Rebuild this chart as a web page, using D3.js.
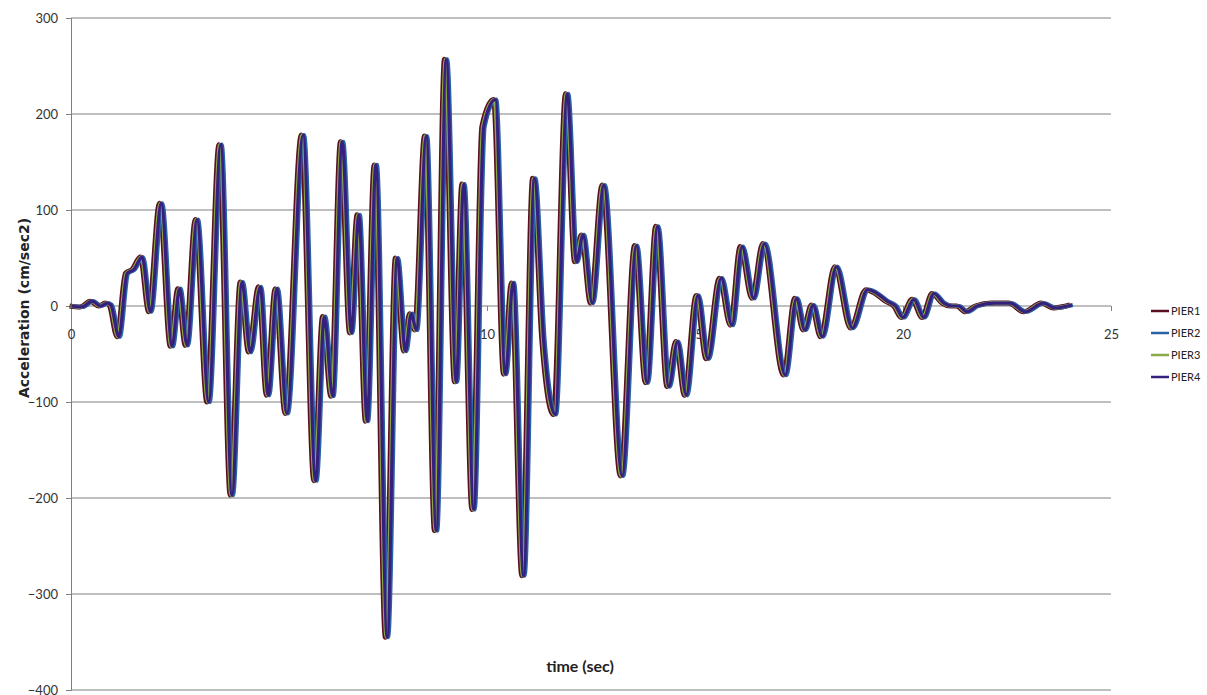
<!DOCTYPE html>
<html>
<head>
<meta charset="utf-8">
<script src="https://cdn.jsdelivr.net/npm/d3@7"></script>
<style>
  html, body { margin: 0; padding: 0; background: #fff; }
  svg { display: block; }
  .tick text { font-family: Lato, "Open Sans", sans-serif; font-size: 13px; fill: #333; }
  .legend-label { font-family: Lato, "Open Sans", sans-serif; font-size: 11px; fill: #222; }
</style>
</head>
<body>
<svg id="chart" width="1207" height="695"></svg>
<script>
const svg = d3.select("#chart");

// time (sec) of each turning point
const timeSec = [
  0.00, 0.25, 0.50, 0.70, 0.86, 0.95, 1.14, 1.34, 1.50, 1.70,
  1.90, 2.16, 2.42, 2.60, 2.78, 3.02, 3.30, 3.59, 3.86, 4.10,
  4.30, 4.54, 4.73, 4.94, 5.18, 5.57, 5.87, 6.08, 6.28, 6.51,
  6.73, 6.91, 7.11, 7.32, 7.59, 7.83, 8.03, 8.17, 8.29, 8.53,
  8.77, 9.01, 9.25, 9.43, 9.67, 9.91, 10.19, 10.43, 10.62, 10.87,
  11.13, 11.35, 11.63, 11.92, 12.14, 12.30, 12.52, 12.80, 13.24, 13.58,
  13.84, 14.09, 14.36, 14.57, 14.78, 15.06, 15.30, 15.62, 15.88, 16.12,
  16.40, 16.66, 17.16, 17.43, 17.63, 17.83, 18.05, 18.39, 18.77, 19.14,
  19.33, 19.61, 19.81, 19.99, 20.25, 20.49, 20.73, 20.97, 21.17, 21.32,
  21.53, 21.77, 22.17, 22.57, 22.93, 23.36, 23.65, 24.05
];

// acceleration (cm/sec2) at those times; the four piers overlap in the picture
const accel = [
  0, -1, 5, 0, 3, 1, -32, 34, 38, 51,
  -6, 107, -42, 18, -41, 90, -100, 168, -197, 25,
  -48, 20, -93, 18, -112, 178, -182, -11, -94, 171,
  -28, 95, -120, 147, -345, 50, -47, -8, -25, 177,
  -234, 257, -79, 127, -212, 187, 215, -71, 24, -281,
  133, -35, -113, 221, 46, 74, 3, 126, -177, 63,
  -80, 83, -84, -37, -93, 11, -55, 29, -20, 62,
  8, 65, -72, 8, -25, 1, -32, 41, -23, 17,
  14, 5, 0, -12, 7, -12, 13, 3, 0, 0,
  -6, 0, 3, 3, -6, 3, -2, 1
];

const pierNames = ["PIER1", "PIER2", "PIER3", "PIER4"];
const pierColors = ["#5a1020", "#2a62a6", "#8ca64a", "#35207f"];
const pierShift = [-1.4, 1.4, -0.5, 0.4];
const pierWidth = [5, 4.2, 3.6, 3.2];

const xTicks = [0, 5, 10, 15, 20, 25];
const yTicks = [300, 200, 100, 0, -100, -200, -300, -400];

const plot = { left: 71, right: 1111, top: 18, bottom: 690 };

const x = d3.scaleLinear().domain([0, 25]).range([plot.left, plot.right]);
const y = d3.scaleLinear().domain([-400, 300]).range([plot.bottom, plot.top]);

// gridlines
svg.append("g")
  .selectAll("line")
  .data(yTicks)
  .join("line")
  .attr("x1", plot.left)
  .attr("x2", plot.right)
  .attr("y1", (d) => y(d))
  .attr("y2", (d) => y(d))
  .attr("stroke", "#7f7f7f")
  .attr("stroke-width", 1);

// y axis
svg.append("g")
  .attr("transform", `translate(${plot.left},0)`)
  .call(d3.axisLeft(y).tickValues(yTicks).tickSize(5).tickPadding(8))
  .call((g) => g.select(".domain").attr("stroke", "#7f7f7f"))
  .call((g) => g.selectAll(".tick line").attr("stroke", "#7f7f7f"));

// x axis sits on the zero line
svg.append("g")
  .attr("transform", `translate(0,${y(0)})`)
  .call(d3.axisBottom(x).tickValues(xTicks).tickSize(5).tickPadding(19))
  .call((g) => g.select(".domain").remove())
  .call((g) => g.selectAll(".tick line").attr("stroke", "#7f7f7f"));

const line = d3.line()
  .x((d) => x(d.t))
  .y((d) => y(d.v))
  .curve(d3.curveMonotoneX);

const points = timeSec.map((t, i) => ({ t, v: accel[i] }));

pierNames.forEach((name, i) => {
  svg.append("path")
    .datum(points)
    .attr("transform", `translate(${pierShift[i]},0)`)
    .attr("fill", "none")
    .attr("stroke", pierColors[i])
    .attr("stroke-width", pierWidth[i])
    .attr("stroke-linejoin", "round")
    .attr("d", line);
});

// legend
const legend = svg.append("g").attr("transform", "translate(1151,311)");
const row = legend.selectAll("g")
  .data(pierNames)
  .join("g")
  .attr("transform", (d, i) => `translate(0,${i * 22})`);

row.append("line")
  .attr("x1", 0)
  .attr("x2", 18)
  .attr("stroke", (d, i) => pierColors[i])
  .attr("stroke-width", 2.5);

row.append("text")
  .attr("class", "legend-label")
  .attr("x", 20)
  .attr("dy", "0.35em")
  .text((d) => d);

// axis titles
svg.append("text")
  .attr("transform", "translate(29,308) rotate(-90)")
  .attr("text-anchor", "middle")
  .style("font-family", "'DejaVu Sans', sans-serif")
  .style("font-weight", "bold")
  .style("font-size", "14px")
  .style("fill", "#222")
  .text("Acceleration (cm/sec2)");

svg.append("text")
  .attr("x", 580)
  .attr("y", 672)
  .attr("text-anchor", "middle")
  .style("font-family", "Lato, 'Open Sans', sans-serif")
  .style("font-weight", "bold")
  .style("font-size", "16px")
  .style("fill", "#222")
  .text("time (sec)");
</script>
</body>
</html>
